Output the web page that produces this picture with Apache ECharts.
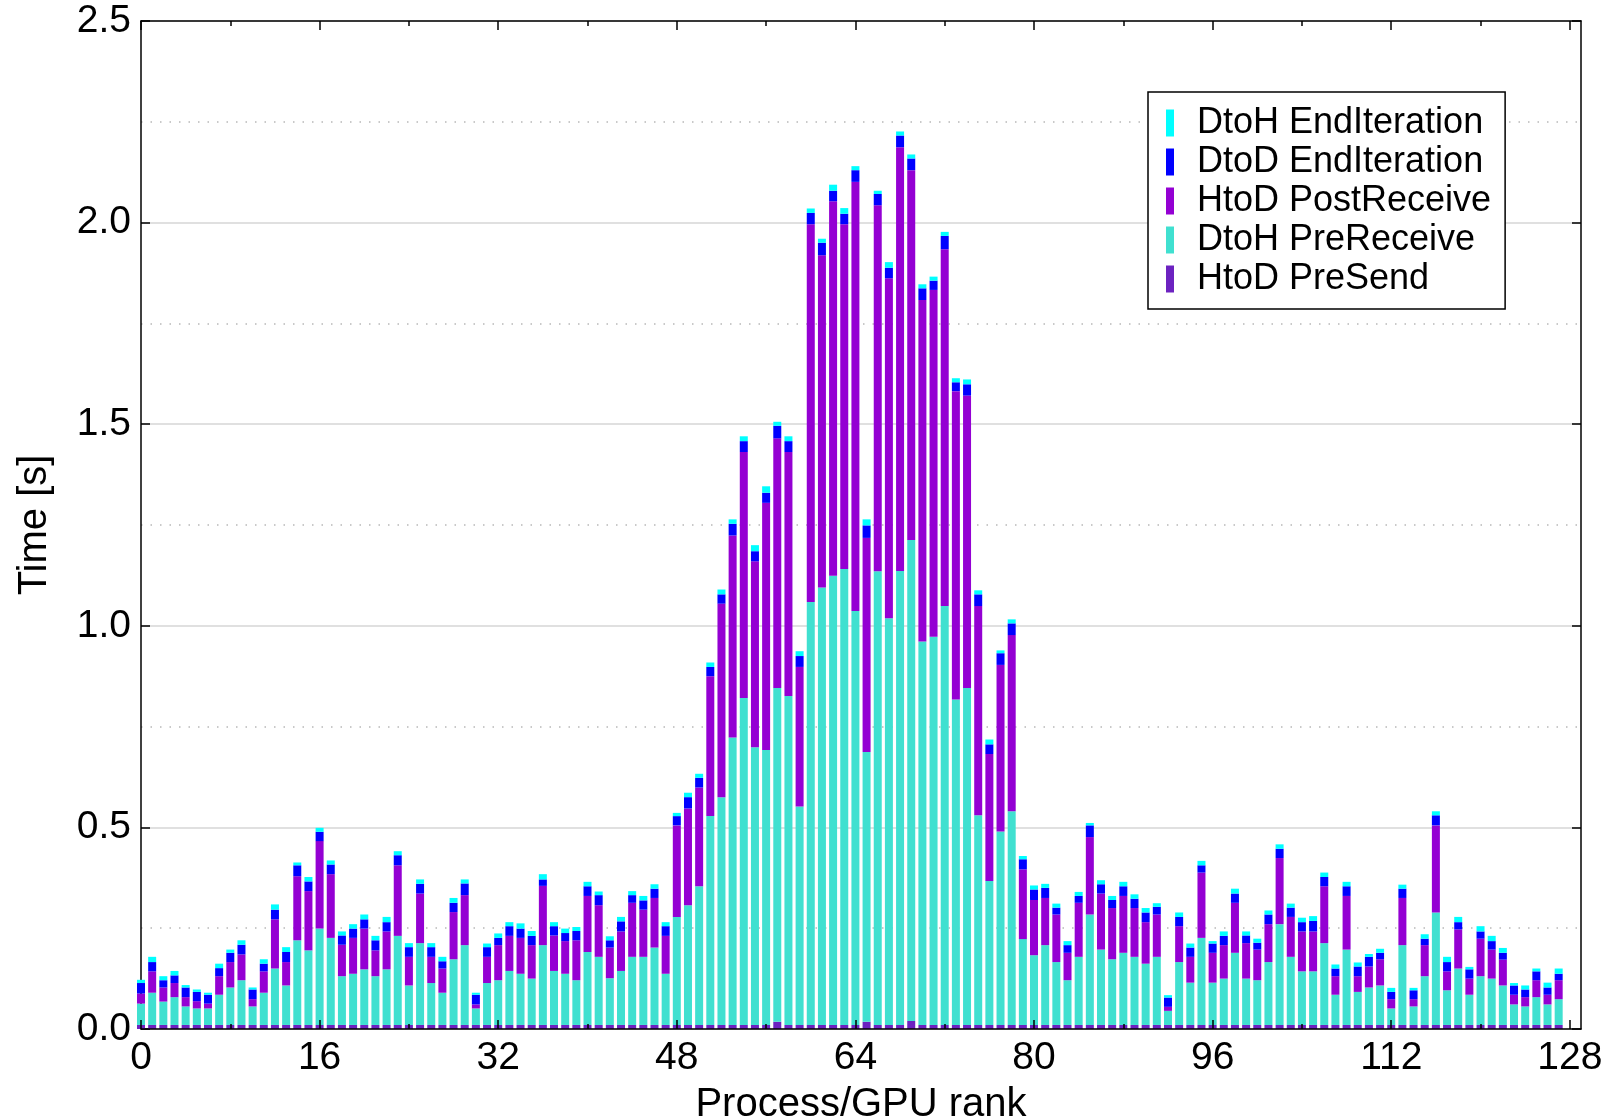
<!DOCTYPE html>
<html>
<head>
<meta charset="utf-8">
<script src="https://cdn.jsdelivr.net/npm/echarts@6/dist/echarts.min.js"></script>
<style>
html,body{margin:0;padding:0;background:#fff;}
#chart{width:1612px;height:1120px;}
</style>
</head>
<body>
<div id="chart"></div>
<script>
// x positions 0..129 (the axis runs from 0 to 129; bars sit on ranks 0..127)
const ranks = [];
for (let r = 0; r <= 129; r++) ranks.push(String(r));

// HtoD PreSend (bottom thin layer)
const htodPreSend = [
0.010,0.010,0.010,0.010,0.010,0.010,0.010,0.010,0.010,0.010,0.010,0.010,0.010,0.010,0.010,0.010,
0.010,0.010,0.010,0.010,0.010,0.010,0.010,0.010,0.010,0.010,0.010,0.010,0.010,0.010,0.010,0.010,
0.010,0.010,0.010,0.010,0.010,0.010,0.010,0.010,0.010,0.010,0.010,0.010,0.010,0.010,0.010,0.010,
0.010,0.010,0.010,0.010,0.010,0.010,0.010,0.010,0.010,0.018,0.010,0.010,0.010,0.010,0.010,0.010,
0.010,0.018,0.010,0.010,0.010,0.020,0.010,0.010,0.010,0.010,0.010,0.010,0.010,0.010,0.010,0.010,
0.010,0.010,0.010,0.010,0.010,0.010,0.010,0.010,0.010,0.010,0.010,0.010,0.010,0.010,0.010,0.010,
0.010,0.010,0.010,0.010,0.010,0.010,0.010,0.010,0.010,0.010,0.010,0.010,0.010,0.010,0.010,0.010,
0.010,0.010,0.010,0.010,0.010,0.010,0.010,0.010,0.010,0.010,0.010,0.010,0.010,0.010,0.010,0.010
];

// DtoH PreReceive
const dtohPreReceive = [
0.053,0.080,0.058,0.069,0.046,0.041,0.041,0.075,0.093,0.111,0.046,0.080,0.140,0.098,0.210,0.185,
0.239,0.216,0.121,0.127,0.138,0.121,0.138,0.221,0.098,0.203,0.104,0.080,0.163,0.198,0.041,0.104,
0.111,0.134,0.127,0.115,0.198,0.134,0.127,0.111,0.181,0.169,0.116,0.134,0.169,0.169,0.192,0.127,
0.268,0.297,0.344,0.518,0.565,0.713,0.811,0.689,0.682,0.828,0.816,0.542,1.049,1.085,1.114,1.131,
1.027,0.669,1.125,1.009,1.126,1.193,0.951,0.963,1.039,0.807,0.836,0.520,0.357,0.480,0.530,0.213,
0.173,0.198,0.156,0.111,0.169,0.274,0.187,0.163,0.179,0.169,0.152,0.169,0.035,0.156,0.105,0.216,
0.105,0.115,0.179,0.115,0.111,0.156,0.250,0.169,0.133,0.133,0.203,0.075,0.187,0.082,0.093,0.098,
0.041,0.198,0.046,0.121,0.279,0.086,0.140,0.075,0.121,0.115,0.098,0.051,0.046,0.069,0.051,0.064
];

// HtoD PostReceive
const htodPostReceive = [
0.025,0.053,0.035,0.035,0.023,0.018,0.012,0.046,0.063,0.064,0.018,0.053,0.122,0.058,0.159,0.147,
0.217,0.158,0.078,0.089,0.101,0.064,0.094,0.175,0.071,0.123,0.065,0.060,0.117,0.124,0.010,0.065,
0.087,0.087,0.089,0.083,0.147,0.088,0.081,0.099,0.139,0.128,0.076,0.098,0.134,0.117,0.123,0.094,
0.227,0.240,0.245,0.347,0.480,0.501,0.610,0.461,0.613,0.619,0.605,0.346,0.937,0.824,0.929,0.855,
1.064,0.531,0.908,0.843,1.051,0.917,0.847,0.860,0.885,0.765,0.725,0.519,0.315,0.413,0.437,0.173,
0.137,0.117,0.118,0.068,0.134,0.192,0.139,0.127,0.141,0.121,0.103,0.105,0.010,0.089,0.064,0.162,
0.074,0.083,0.124,0.088,0.076,0.094,0.164,0.099,0.099,0.099,0.141,0.046,0.133,0.039,0.052,0.065,
0.023,0.117,0.018,0.077,0.216,0.047,0.097,0.040,0.093,0.072,0.064,0.024,0.023,0.042,0.024,0.047
];

// DtoD EndIteration
const dtodEndIteration = [
0.026,0.023,0.018,0.019,0.024,0.023,0.022,0.020,0.023,0.024,0.024,0.019,0.024,0.025,0.027,0.024,
0.023,0.024,0.023,0.023,0.023,0.025,0.023,0.025,0.024,0.024,0.024,0.018,0.023,0.029,0.024,0.024,
0.018,0.024,0.023,0.023,0.016,0.023,0.020,0.023,0.024,0.025,0.018,0.025,0.019,0.023,0.023,0.024,
0.023,0.028,0.024,0.023,0.023,0.029,0.027,0.025,0.025,0.031,0.027,0.027,0.028,0.031,0.026,0.026,
0.029,0.031,0.028,0.026,0.029,0.029,0.029,0.023,0.033,0.022,0.028,0.029,0.024,0.029,0.029,0.025,
0.026,0.025,0.017,0.019,0.017,0.029,0.023,0.020,0.024,0.023,0.024,0.019,0.023,0.023,0.023,0.018,
0.023,0.023,0.023,0.019,0.017,0.024,0.023,0.023,0.023,0.026,0.023,0.019,0.024,0.024,0.024,0.016,
0.018,0.023,0.022,0.016,0.025,0.023,0.018,0.023,0.018,0.021,0.017,0.023,0.019,0.022,0.018,0.016
];

// DtoH EndIteration (top layer)
const dtohEndIteration = [
0.008,0.013,0.010,0.011,0.006,0.006,0.005,0.011,0.008,0.011,0.005,0.011,0.013,0.012,0.007,0.011,
0.010,0.010,0.010,0.011,0.012,0.011,0.013,0.010,0.010,0.011,0.010,0.011,0.012,0.010,0.005,0.009,
0.011,0.010,0.013,0.012,0.013,0.010,0.011,0.010,0.011,0.009,0.010,0.011,0.010,0.011,0.011,0.010,
0.008,0.011,0.010,0.011,0.012,0.011,0.012,0.015,0.016,0.010,0.012,0.012,0.011,0.010,0.015,0.014,
0.010,0.015,0.008,0.014,0.010,0.010,0.010,0.010,0.010,0.010,0.012,0.010,0.012,0.007,0.010,0.008,
0.010,0.010,0.010,0.010,0.010,0.006,0.010,0.010,0.011,0.011,0.011,0.009,0.006,0.011,0.010,0.011,
0.006,0.011,0.012,0.010,0.010,0.010,0.011,0.010,0.011,0.012,0.011,0.010,0.011,0.010,0.007,0.010,
0.010,0.010,0.006,0.011,0.010,0.013,0.013,0.006,0.013,0.013,0.012,0.006,0.010,0.007,0.012,0.013
];

const FONT = "'Liberation Sans', Arial, Helvetica, sans-serif";
const FS = 36;        // legend
const FS_TICK = 39;   // tick labels
const FS_TITLE = 40;  // axis titles

const seriesDefs = [
  { name: 'HtoD PreSend', data: htodPreSend, color: '#6c22c0' },
  { name: 'DtoH PreReceive', data: dtohPreReceive, color: '#40e0d0' },
  { name: 'HtoD PostReceive', data: htodPostReceive, color: '#9400d3' },
  { name: 'DtoD EndIteration', data: dtodEndIteration, color: '#0000ff' },
  { name: 'DtoH EndIteration', data: dtohEndIteration, color: '#00ffff' }
];

const chart = echarts.init(document.getElementById('chart'), null, { renderer: 'canvas' });

const tickStyle = { color: '#000', width: 1.5 };

function xAx(pos, every, len, main) {
  const withLabel = main && pos === 'bottom';
  return {
    type: 'category', data: ranks, boundaryGap: false, position: pos,
    z: 10,
    axisLine: { show: main, onZero: false, lineStyle: { color: '#000', width: 1.5 } },
    axisTick: { show: true, inside: true, length: len, interval: every - 1, alignWithLabel: true, lineStyle: tickStyle },
    axisLabel: withLabel ? {
      show: true, interval: every - 1, fontSize: FS_TICK, fontFamily: FONT, color: '#000', margin: 10
    } : { show: false },
    splitLine: { show: false },
    name: withLabel ? 'Process/GPU rank' : '',
    nameLocation: 'middle', nameGap: 56,
    nameTextStyle: { fontSize: FS_TITLE, fontFamily: FONT, color: '#000' }
  };
}

const option = {
  animation: false,
  backgroundColor: '#fff',
  grid: { left: 141, top: 21, width: 1440, height: 1008, containLabel: false, outerBoundsMode: 'none' },
  legend: {
    orient: 'vertical',
    left: 1148, top: 92,
    data: ['DtoH EndIteration', 'DtoD EndIteration', 'HtoD PostReceive', 'DtoH PreReceive', 'HtoD PreSend'],
    icon: 'rect',
    itemWidth: 8, itemHeight: 27, itemGap: 3,
    padding: [13, 14, 12, 18],
    backgroundColor: '#fff',
    borderColor: '#000', borderWidth: 1.5,
    textStyle: { fontSize: FS, fontFamily: FONT, color: '#000', lineHeight: 36, padding: [0, 0, 0, 18] },
    selectedMode: false
  },
  xAxis: [
    xAx('bottom', 16, 9, true),
    xAx('bottom', 8, 5, false),
    xAx('top', 16, 9, true),
    xAx('top', 8, 5, false)
  ],
  yAxis: [
    {
      type: 'value', min: 0, max: 2.5, interval: 0.5, position: 'left',
      axisLine: { show: true, lineStyle: { color: '#000', width: 1.5 } },
      axisTick: { show: true, inside: true, length: 9, lineStyle: tickStyle },
      axisLabel: { fontSize: FS_TICK, fontFamily: FONT, color: '#000', margin: 10, formatter: v => v.toFixed(1) },
      splitLine: { show: true, lineStyle: { color: '#d6d6d6', width: 1.5 } },
      minorTick: { show: false, splitNumber: 2 },
      minorSplitLine: { show: true, lineStyle: { color: '#b8b8b8', width: 1.5, type: [1.5, 8] } },
      name: 'Time [s]', nameLocation: 'middle', nameGap: 86, nameRotate: 90,
      nameTextStyle: { fontSize: FS_TITLE, fontFamily: FONT, color: '#000' }
    },
    {
      type: 'value', min: 0, max: 2.5, interval: 0.5, position: 'right', z: 10,
      axisLine: { show: true, lineStyle: { color: '#000', width: 1.5 } },
      axisTick: { show: true, inside: true, length: 9, lineStyle: tickStyle },
      axisLabel: { show: false },
      splitLine: { show: false }
    }
  ],
  series: seriesDefs.map(s => ({
    name: s.name,
    type: 'bar',
    stack: 'total',
    xAxisIndex: 0, yAxisIndex: 0,
    barWidth: 8,
    clip: true,
    itemStyle: { color: s.color },
    emphasis: { disabled: true },
    data: s.data
  }))
};

chart.setOption(option);
</script>
</body>
</html>
